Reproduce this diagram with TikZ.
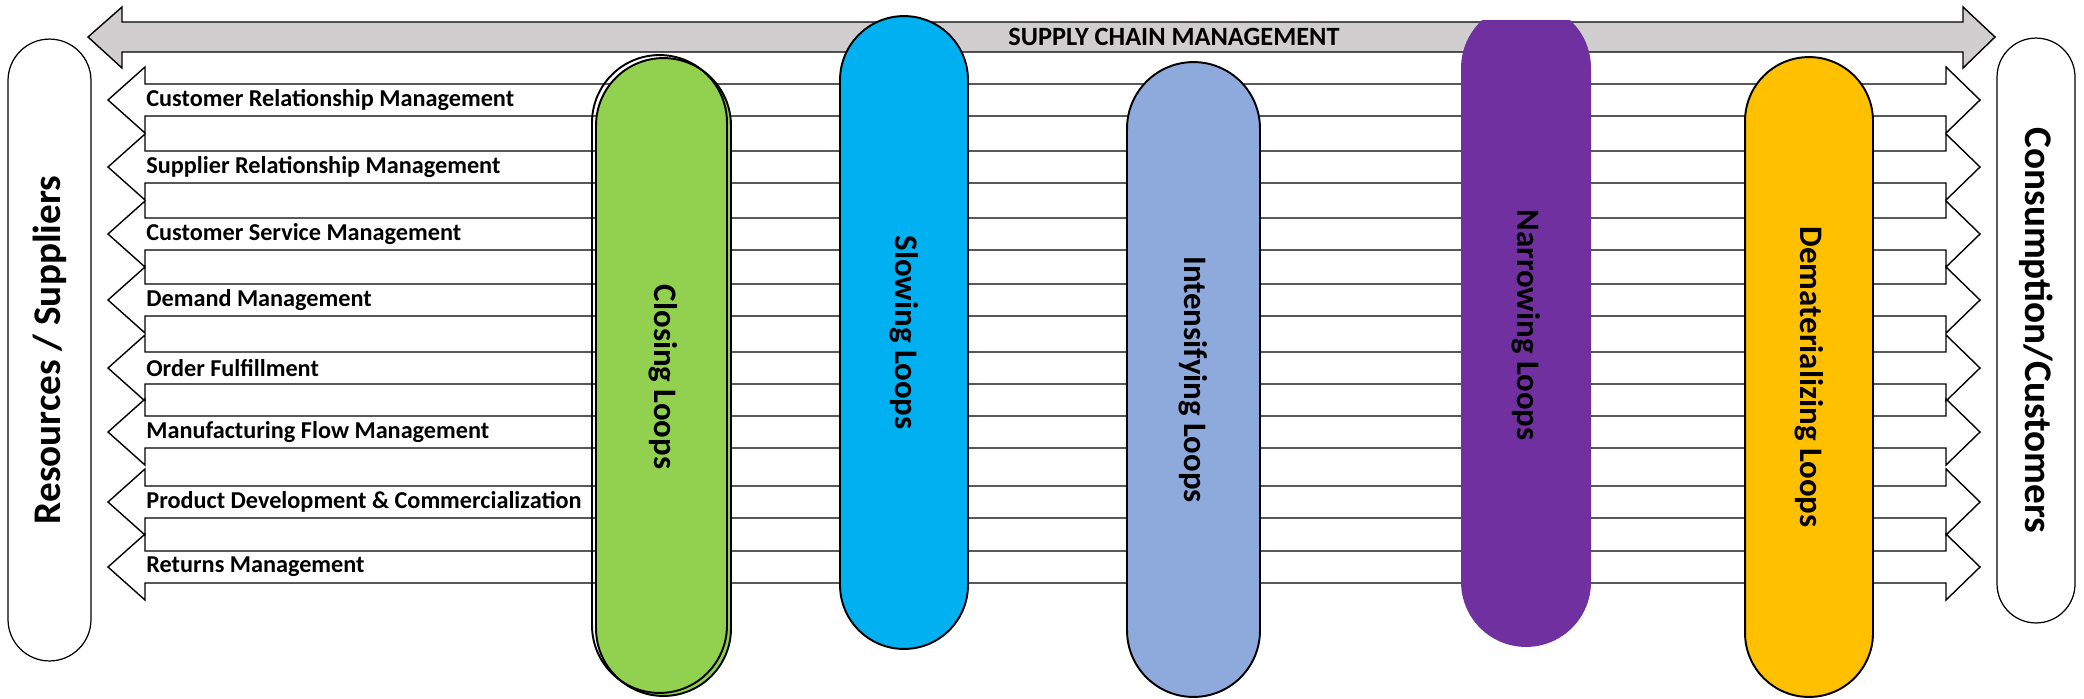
\documentclass[tikz,border=0pt]{standalone}
\usepackage{fontspec}
\setmainfont{Carlito}
\usetikzlibrary{shapes.misc}
\definecolor{SCGray}{HTML}{D0CECE}
\definecolor{CLGreen}{HTML}{92D050}
\definecolor{SLBlue}{HTML}{00B0F0}
\definecolor{INBlue}{HTML}{8EA9DB}
\definecolor{NRPurple}{HTML}{7030A0}
\definecolor{DMGold}{HTML}{FFC000}

\begin{document}
\begin{tikzpicture}[x=0.02cm,y=-0.02cm,
  flow/.style={draw=black,fill=white,line width=0.8pt,line join=miter},
  lab/.style={anchor=west,inner sep=0pt,font=\bfseries\fontsize{13.8}{16}\selectfont},
  loop/.style={rounded rectangle,draw=black,line width=1.1pt,inner sep=0pt,
    rotate=-90,font=\bfseries\fontsize{18.7}{22}\selectfont},
  side/.style={rounded rectangle,draw=black,line width=0.7pt,fill=white,
    inner sep=0pt,font=\bfseries\fontsize{22.3}{26}\selectfont}
]
  \useasboundingbox (0,0) rectangle (2084,698);

  % supply chain band
  \draw[flow,fill=SCGray] (88,37) -- (122,7) -- (122,22) -- (1963,22) -- (1963,7)
    -- (1995,37) -- (1963,68) -- (1963,52) -- (122,52) -- (122,68) -- cycle;
  \node[font=\bfseries\fontsize{15}{18}\selectfont,inner sep=0pt] (scm) at (1174,37)
    {SUPPLY CHAIN MANAGEMENT};

  % the eight processes
  \foreach \ry/\rtext [count=\ri] in {100/Customer Relationship Management,
      167/Supplier Relationship Management, 234/Customer Service Management,
      300/Demand Management, 368/Order Fulfillment,
      432/Manufacturing Flow Management,
      502/Product Development \& Commercialization, 567/Returns Management}{
    \draw[flow] (108,\ry) -- (145,\ry-33) -- (145,\ry-16) -- (1946,\ry-16)
      -- (1946,\ry-33) -- (1980,\ry) -- (1946,\ry+33) -- (1946,\ry+16)
      -- (145,\ry+16) -- (145,\ry+33) -- cycle;
    \node[lab] (proc\ri) at (146,\ry) {\rtext};
  }

  % loops
  \node[loop,fill=CLGreen,minimum width=12.76cm,minimum height=2.70cm] (closing)
    at (663.5,377) {Closing Loops};
  \node[loop,minimum width=12.76cm,minimum height=2.70cm] (closingrim) at (659.5,374) {};
  \node[loop,fill=SLBlue,minimum width=12.66cm,minimum height=2.56cm] (slowing)
    at (904,332.5) {Slowing Loops};
  \node[loop,fill=INBlue,minimum width=12.70cm,minimum height=2.66cm] (intensifying)
    at (1193.5,379.5) {Intensifying Loops};
  \begin{scope}
    \clip (1400,20) rectangle (1650,698);
    \node[loop,draw=none,fill=NRPurple,minimum width=12.88cm,minimum height=2.60cm]
      (narrowing) at (1526,325) {Narrowing Loops};
  \end{scope}
  \node[loop,fill=DMGold,minimum width=12.80cm,minimum height=2.56cm] (demat)
    at (1809,377) {Dematerializing Loops};

  % both ends of the chain
  \node[side,rotate=90,minimum width=12.44cm,minimum height=1.66cm] (res)
    at (49.5,350) {Resources / Suppliers};
  \node[side,rotate=-90,minimum width=11.70cm,minimum height=1.56cm] (cons)
    at (2036,330.5) {Consumption/Customers};
\end{tikzpicture}
\end{document}
